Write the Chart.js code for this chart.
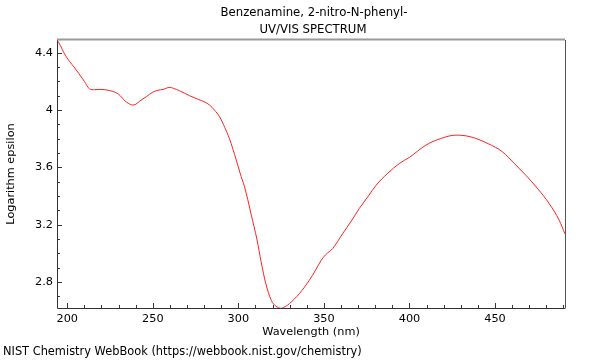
<!DOCTYPE html>
<html>
<head>
<meta charset="utf-8">
<script src="https://cdn.jsdelivr.net/npm/chart.js@4.4.1/dist/chart.umd.min.js"></script>
<style>
html,body{margin:0;padding:0;background:#fff;}
#wrap{width:600px;height:360px;position:relative;}
</style>
</head>
<body>
<div id="wrap"><canvas id="c" width="600" height="360"></canvas></div>
<script>
const titleLines = ['Benzenamine, 2-nitro-N-phenyl-', 'UV/VIS SPECTRUM'];
const footerText = 'NIST Chemistry WebBook (https://webbook.nist.gov/chemistry)';
const xTitle = 'Wavelength (nm)';
const yTitle = 'Logarithm epsilon';

const wavelength = [194,196,198,201.5,204,206.7,210,213,216,219,224,228.7,231,233.6,236,238,240,242.3,246.2,250,253,256,259.8,262,265.7,271.5,276.8,280,283.2,286,289,292,294.8,298.8,301,303.6,305.5,307.5,310.8,313.3,315.9,319.2,322,325,327.5,329.9,335.7,341.5,345,348.4,351,355.1,361,366,370.7,376,380.5,387,394.1,400,409.6,418,427.2,433,438.8,446,454.4,461,468,475,481.6,487.5,490.9];
const logEpsilon = [4.49,4.45,4.40,4.337,4.30,4.256,4.20,4.148,4.142,4.144,4.138,4.12,4.10,4.065,4.045,4.035,4.04,4.062,4.093,4.125,4.138,4.144,4.158,4.152,4.134,4.10,4.073,4.058,4.035,4.0,3.953,3.88,3.80,3.65,3.56,3.464,3.375,3.27,3.10,2.94,2.795,2.672,2.63,2.615,2.628,2.649,2.719,2.812,2.88,2.951,2.99,3.033,3.138,3.225,3.313,3.40,3.475,3.555,3.627,3.67,3.755,3.80,3.825,3.82,3.802,3.765,3.708,3.63,3.545,3.45,3.348,3.231,3.135];

const xRange = [194, 490.9];
const yRange = [2.618, 4.489];
const xMajorTicks = [200,250,300,350,400,450];
const yMajorTicks = [2.8,3.2,3.6,4.0,4.4];

const FONT = 'DejaVu Sans';
const FS = 11.3;

const frame = {
  id: 'frame',
  beforeDatasetsDraw(chart) {
    const {ctx, chartArea: a, scales} = chart;
    ctx.save();
    ctx.strokeStyle = '#999';
    ctx.lineWidth = 2;
    ctx.beginPath(); ctx.moveTo(a.left, a.top - 0.5); ctx.lineTo(a.right, a.top - 0.5); ctx.stroke();
    ctx.strokeStyle = '#555';
    ctx.lineWidth = 1;
    ctx.beginPath(); ctx.moveTo(a.right + 0.5, a.top); ctx.lineTo(a.right + 0.5, a.bottom); ctx.stroke();
    ctx.strokeStyle = '#333';
    ctx.beginPath(); ctx.moveTo(a.left + 0.5, a.top); ctx.lineTo(a.left + 0.5, a.bottom + 0.5); ctx.lineTo(a.right + 0.5, a.bottom + 0.5); ctx.stroke();
    const xs = scales.x, ys = scales.y;
    ctx.beginPath();
    for (let v = 200; v <= xs.max; v += 10) {
      const px = Math.round(xs.getPixelForValue(v)) + 0.5;
      const len = (v % 50 === 0) ? 5 : 3;
      ctx.moveTo(px, a.bottom); ctx.lineTo(px, a.bottom - len);
    }
    for (let i = 27; i <= 44; i++) {
      const v = i / 10;
      if (v < ys.min || v > ys.max) continue;
      const py = Math.round(ys.getPixelForValue(v)) + 0.5;
      const len = (i % 4 === 0) ? 5 : 3;
      ctx.moveTo(a.left, py); ctx.lineTo(a.left + len, py);
    }
    ctx.stroke();
    ctx.restore();
  },
  afterDraw(chart) {
    const {ctx} = chart;
    ctx.save();
    ctx.fillStyle = '#000';
    ctx.font = '11.7px "' + FONT + '"';
    ctx.textAlign = 'center';
    ctx.textBaseline = 'middle';
    ctx.fillText(titleLines[0], 314, 13);
    ctx.fillText(titleLines[1], 313, 30);
    ctx.font = '11.4px "' + FONT + '"';
    ctx.textAlign = 'left';
    ctx.fillText(footerText, 3, 352);
    ctx.restore();
  }
};

new Chart(document.getElementById('c'), {
  type: 'line',
  data: {
    datasets: [{
      data: wavelength.map((w, i) => ({x: w, y: logEpsilon[i]})),
      borderColor: '#ff2020',
      borderWidth: 1,
      pointRadius: 0,
      tension: 0.4,
      cubicInterpolationMode: 'monotone',
      fill: false
    }]
  },
  options: {
    responsive: false,
    animation: false,
    devicePixelRatio: 1,
    layout: {padding: {top: 40, left: 0, right: 35, bottom: 0}},
    plugins: {legend: {display: false}, tooltip: {enabled: false}, title: {display: false}},
    scales: {
      x: {
        type: 'linear', min: xRange[0], max: xRange[1],
        border: {display: false},
        grid: {display: false, drawTicks: false},
        afterBuildTicks: (s) => { s.ticks = xMajorTicks.map(v => ({value: v})); },
        afterFit: (s) => { s.height = 52; },
        ticks: {padding: 4, color: '#000', font: {family: FONT, size: FS}, maxRotation: 0, callback: (v) => String(v)},
        title: {display: true, text: xTitle, color: '#000', font: {family: FONT, size: FS}, padding: {top: 0, bottom: 21}}
      },
      y: {
        type: 'linear', min: yRange[0], max: yRange[1],
        border: {display: false},
        grid: {display: false, drawTicks: false},
        afterBuildTicks: (s) => { s.ticks = yMajorTicks.map(v => ({value: v})); },
        afterFit: (s) => { s.width = 57; },
        ticks: {padding: 4, color: '#000', font: {family: FONT, size: FS}, callback: (v) => (Math.round(v * 10) / 10).toString()},
        title: {display: true, text: yTitle, color: '#000', font: {family: FONT, size: FS}, padding: {top: 4, bottom: 0}}
      }
    }
  },
  plugins: [frame]
});
</script>
</body>
</html>
